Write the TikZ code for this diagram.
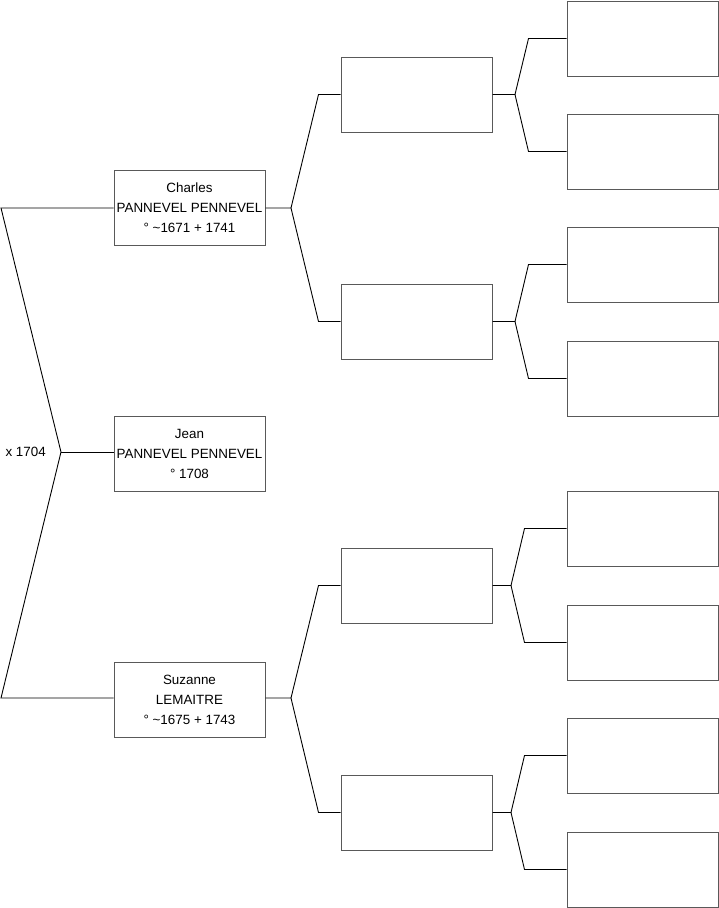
\documentclass[tikz,border=0pt]{standalone}
\usepackage{fontspec}
\setmainfont{Liberation Sans}
\begin{document}
\begin{tikzpicture}[x=1pt,y=-1pt,
  person/.style={draw=black!65, line width=1pt, rectangle, minimum width=151pt, minimum height=75pt, inner sep=0pt, align=center, font=\fontsize{13.4}{20}\selectfont},
  link/.style={draw=black, line width=0.9pt, line join=miter}]
\useasboundingbox (0,0) rectangle (719,908);
% generation 1
\node[person] (C) at (189.5,207.5) {Charles\\PANNEVEL PENNEVEL\\° \textasciitilde1671 + 1741};
\node[person, minimum height=75pt] (J) at (189.5,453.5) {Jean\\PANNEVEL PENNEVEL\\° 1708};
\node[person] (S) at (189.5,699.5) {Suzanne\\LEMAITRE\\° \textasciitilde1675 + 1743};
% generation 2
\node[person] (F) at (416.5,94.5) {};
\node[person] (M) at (416.5,321.5) {};
\node[person] (FF) at (416.5,585.5) {};
\node[person] (MM) at (416.5,812.5) {};
% generation 3
\node[person] (g1) at (642.5,38.5) {};
\node[person] (g2) at (642.5,151.5) {};
\node[person] (g3) at (642.5,264.5) {};
\node[person] (g4) at (642.5,378.5) {};
\node[person] (g5) at (642.5,528.5) {};
\node[person] (g6) at (642.5,642.5) {};
\node[person] (g7) at (642.5,755.5) {};
\node[person] (g8) at (642.5,869.5) {};
% marriage connector
\coordinate (mL) at (61,452);
\coordinate (cL) at (1,208);
\coordinate (sL) at (1,698);
\node[anchor=east, font=\fontsize{13.4}{15}\selectfont, inner sep=0pt] (mx) at (46,452) {x 1704};
\draw[link] (C.west |- cL) -- (cL) -- (mL) -- (sL) -- (S.west |- sL);
\draw[link] (mL) -- (J.west |- mL);
% Charles parents
\coordinate (jC) at (291,208);
\draw[link] (C.east |- jC) -- (jC) -- ([xshift=-22pt]F.west) -- (F.west);
\draw[link] (jC) -- ([xshift=-22pt]M.west) -- (M.west);
% Suzanne parents
\coordinate (jS) at (291,698);
\draw[link] (S.east |- jS) -- (jS) -- ([xshift=-22pt]FF.west) -- (FF.west);
\draw[link] (jS) -- ([xshift=-22pt]MM.west) -- (MM.west);
% grandparents
\coordinate (jF) at (515,94.5);
\draw[link] (F.east) -- (jF) -- ([xshift=-38pt]g1.west) -- (g1.west);
\draw[link] (jF) -- ([xshift=-38pt]g2.west) -- (g2.west);
\coordinate (jM) at (515,321.5);
\draw[link] (M.east) -- (jM) -- ([xshift=-38pt]g3.west) -- (g3.west);
\draw[link] (jM) -- ([xshift=-38pt]g4.west) -- (g4.west);
\coordinate (jFF) at (511,585.5);
\draw[link] (FF.east) -- (jFF) -- ([xshift=-42pt]g5.west) -- (g5.west);
\draw[link] (jFF) -- ([xshift=-42pt]g6.west) -- (g6.west);
\coordinate (jMM) at (511,812.5);
\draw[link] (MM.east) -- (jMM) -- ([xshift=-42pt]g7.west) -- (g7.west);
\draw[link] (jMM) -- ([xshift=-42pt]g8.west) -- (g8.west);
\end{tikzpicture}
\end{document}
